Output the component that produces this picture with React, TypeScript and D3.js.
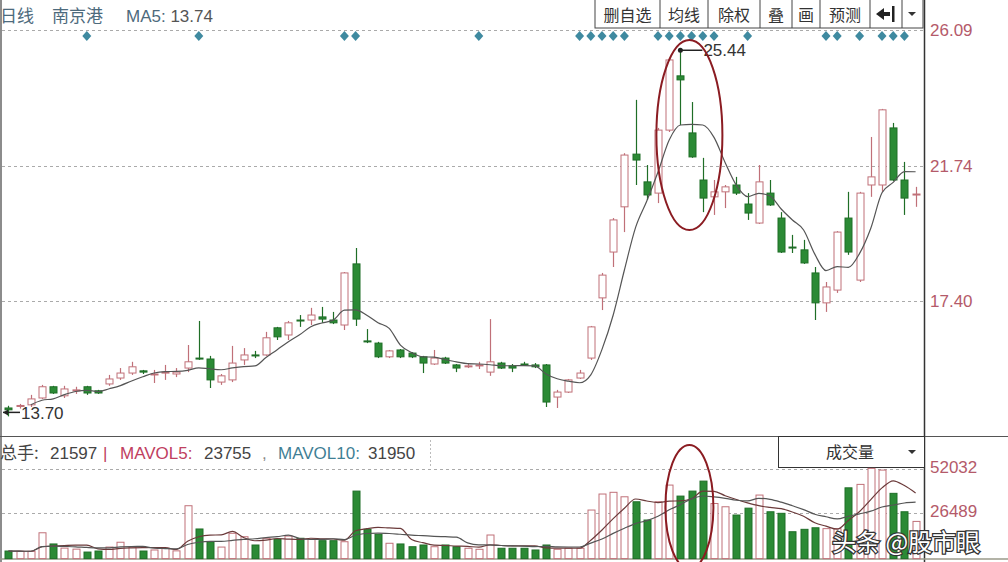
import React from "react";
import * as d3 from "d3";

// ---- data ----
const opens = [13.97,14.02,14.07,14.29,14.65,14.36,14.52,14.65,14.52,14.74,14.93,15.09,15.16,15.03,15.09,15.06,15.25,15.57,15.54,14.80,14.87,15.51,15.67,15.67,16.54,16.31,16.79,16.79,16.89,16.79,16.63,18.59,16.12,16.05,15.61,15.83,15.73,15.61,15.38,15.57,15.35,15.30,15.33,15.12,15.41,15.32,15.38,15.35,15.35,14.32,14.48,14.93,15.57,17.50,18.97,20.42,22.11,21.22,20.86,22.88,24.62,22.79,21.28,20.74,20.90,21.12,20.51,19.90,20.86,20.06,19.13,19.04,18.30,17.34,17.75,20.06,18.07,21.12,21.12,22.95,21.28,20.80];
const highs = [14.04,14.10,14.39,14.71,14.68,14.68,14.65,14.68,14.55,15.03,15.25,15.45,15.19,15.19,15.35,15.25,15.99,16.76,15.64,15.06,15.96,15.89,15.80,16.41,16.57,16.76,16.95,17.18,17.21,17.05,18.33,19.10,16.50,16.09,15.83,15.86,15.76,15.64,15.83,15.61,15.38,15.38,15.45,16.82,15.45,15.38,15.45,15.41,15.38,14.55,14.90,15.19,16.60,18.30,20.06,22.14,23.85,21.76,22.95,25.20,25.44,23.78,21.99,21.28,21.12,21.38,20.86,21.76,21.28,20.25,19.52,19.36,18.49,18.01,19.64,20.90,20.90,22.66,23.56,23.11,21.86,21.06];
const lows = [13.70,13.95,14.00,14.26,14.42,14.29,14.42,14.39,14.42,14.68,14.87,15.03,15.06,14.77,14.87,14.96,15.12,15.51,14.61,14.71,14.80,15.35,15.57,15.64,16.15,16.15,16.57,16.63,16.70,16.66,16.47,16.60,16.05,15.57,15.57,15.57,15.57,15.09,15.35,15.38,15.12,15.25,15.22,15.00,15.22,15.12,15.32,15.25,14.00,13.97,14.45,14.90,15.51,17.11,18.49,19.61,21.12,20.64,20.54,22.82,23.04,21.99,20.25,20.16,20.38,20.80,20.00,19.87,20.45,18.94,18.94,18.59,16.79,17.05,17.66,18.88,18.01,20.74,20.90,21.25,20.16,20.42];
const closes = [13.91,14.05,14.26,14.65,14.45,14.58,14.55,14.45,14.45,14.90,15.09,15.29,15.12,15.06,15.12,15.12,15.45,15.54,14.87,15.00,15.41,15.67,15.64,16.22,16.25,16.70,16.76,16.95,16.82,16.70,18.30,16.82,16.09,15.61,15.80,15.61,15.61,15.41,15.57,15.41,15.25,15.32,15.35,15.45,15.25,15.25,15.35,15.29,14.16,14.48,14.87,15.09,16.57,18.23,20.00,22.08,21.92,20.80,22.88,25.13,24.49,22.02,20.70,20.90,21.06,20.86,20.22,21.22,20.48,18.97,19.10,18.62,17.34,17.85,19.61,18.97,20.86,21.38,23.53,21.28,20.70,20.83];
const volumes = [4400,4200,4200,15000,8500,6100,5500,3800,4400,6700,9500,6700,4400,5000,6000,4500,30700,17200,9800,6700,14700,12700,7900,11800,11200,13100,11800,11200,10400,10400,9800,39200,17000,14100,8900,8500,6900,7900,6900,7900,6900,6000,5400,13700,6000,6000,6000,5000,7900,5400,6000,6000,28200,37500,38500,35900,33000,22400,33000,42700,36300,39200,45000,32000,30100,25300,29300,36900,27200,26300,15600,17000,17900,17400,17400,41100,43100,52400,51400,37900,27200,21597];
const priceTicks = [26.09, 21.74, 17.40];
const volumeTicks = [52032, 26489];
const signalIdx = [7,17,30,31,42,51,52,53,54,55,58,59,60,61,62,63,66,73,74,76,78,79,80];
const toolbar = ["删自选","均线","除权","叠","画","预测"];
const highLabel = "25.44";
const lowLabel = "13.70";

const W = 1008, H = 562;
const UP = "#c07078", DOWN = "#2b8a35", DOWN_S = "#1f6e27";
const LAT = "'Liberation Sans', Arial, sans-serif";

function movingAvg(arr: number[], n: number, start: number) {
  const out: [number, number][] = [];
  for (let i = start; i < arr.length; i++) {
    const s = arr.slice(Math.max(0, i - n + 1), i + 1);
    out.push([i, d3.mean(s) as number]);
  }
  return out;
}

export default function App() {
  const n = closes.length;
  const x = d3.scaleLinear().domain([0, n - 1]).range([8.4, 915.6]);
  const y = d3.scaleLinear().domain([17.40, 26.09]).range([301, 30]);
  const yv = d3.scaleLinear().domain([0, 52032]).range([558.6, 469]);
  const bw = 7;

  const ma5 = movingAvg(closes, 5, 2);
  const mv5 = movingAvg(volumes, 5, 0);
  const mv10 = movingAvg(volumes, 10, 0);
  const line = d3.line<[number, number]>().x(d => x(d[0])).y(d => y(d[1])).curve(d3.curveMonotoneX);
  const vline = d3.line<[number, number]>().x(d => x(d[0])).y(d => yv(d[1])).curve(d3.curveMonotoneX);

  const hiIdx = highs.indexOf(d3.max(highs) as number);
  const loIdx = lows.indexOf(d3.min(lows) as number);

  const btnEdges = [595, 660, 708, 760, 792, 820, 870, 902, 923];

  return (
    <svg width={W} height={H} style={{ position: "absolute", left: 0, top: 0, background: "#fff" }}
      fontFamily="'Noto Sans CJK SC', 'Liberation Sans', sans-serif">
      <rect x={0} y={0} width={W} height={H} fill="#fff" />
      {/* frame */}
      <line x1={1} y1={0} x2={1} y2={H} stroke="#666" strokeWidth={1.5} />
      <line x1={924.5} y1={0} x2={924.5} y2={H} stroke="#333" strokeWidth={1.5} />
      <line x1={0} y1={436.5} x2={1008} y2={436.5} stroke="#555" strokeWidth={1} />
      <line x1={0} y1={559} x2={1008} y2={559} stroke="#9a9a8a" strokeWidth={1.5} />

      {/* price grid */}
      {priceTicks.map(t => (
        <g key={t}>
          <line x1={2} x2={924} y1={Math.round(y(t)) + 0.5} y2={Math.round(y(t)) + 0.5} stroke="#aaa" strokeDasharray="3,3" />
          <text x={930} y={y(t) + 6} fontSize={17} fill="#b45a6a" fontFamily={LAT}>{t.toFixed(2)}</text>
        </g>
      ))}
      {/* volume grid */}
      {volumeTicks.map(t => (
        <g key={t}>
          <line x1={2} x2={924} y1={Math.round(yv(t)) + 0.5} y2={Math.round(yv(t)) + 0.5} stroke="#aaa" strokeDasharray="3,3" />
          <text x={930} y={yv(t) + 4} fontSize={17} fill="#b45a6a" fontFamily={LAT}>{t}</text>
        </g>
      ))}

      {/* header */}
      <g fontSize={17} fill="#4d6a7c">
        <text x={0} y={22}>日线</text>
        <text x={52} y={22}>南京港</text>
        <text x={126} y={22} fontFamily={LAT}>MA5: <tspan fill="#555">13.74</tspan></text>
      </g>

      {/* signal diamonds */}
      {signalIdx.map(i => (
        <path key={"d" + i} d={`M${x(i)},${31} l4.5,5 l-4.5,5 l-4.5,-5 Z`} fill="#3f8aa0" />
      ))}

      {/* toolbar */}
      <rect x={btnEdges[0]} y={-1} width={btnEdges[btnEdges.length - 1] - btnEdges[0]} height={29} fill="#fff" stroke="#444" />
      {btnEdges.slice(1, -1).map(e => (
        <line key={e} x1={e} x2={e} y1={0} y2={28} stroke="#444" />
      ))}
      {toolbar.map((t, k) => (
        <text key={t} x={(btnEdges[k] + btnEdges[k + 1]) / 2} y={21} fontSize={16} fill="#333" textAnchor="middle">{t}</text>
      ))}
      <path d="M876,14 l8,-6 v4 h6 v4 h-6 v4 Z" fill="#222" />
      <rect x={892} y={6} width={2.5} height={16} fill="#222" />
      <path d="M908,12 h8 l-4,4 Z" fill="#333" />

      {/* candles */}
      {closes.map((c, i) => {
        const o = opens[i];
        const up = c >= o;
        const cx = Math.round(x(i)) + 0.5;
        const top = y(Math.max(o, c));
        const bot = y(Math.min(o, c));
        const h = Math.max(1, bot - top);
        const col = up ? UP : DOWN_S;
        return (
          <g key={"c" + i}>
            <line x1={cx} x2={cx} y1={y(highs[i])} y2={y(lows[i])} stroke={col} strokeWidth={1.2} />
            <rect x={cx - bw / 2} y={top} width={bw} height={h}
              fill={up ? "#fff" : DOWN} stroke={col} strokeWidth={1} />
          </g>
        );
      })}

      {/* MA5 */}
      <path d={line(ma5) || ""} fill="none" stroke="#555" strokeWidth={1.2} />

      {/* high / low markers */}
      <circle cx={x(hiIdx)} cy={y(highs[hiIdx])} r={2.5} fill="#222" />
      <line x1={x(hiIdx)} x2={x(hiIdx) + 22} y1={y(highs[hiIdx])} y2={y(highs[hiIdx])} stroke="#222" strokeWidth={1.5} />
      <text x={x(hiIdx) + 23} y={y(highs[hiIdx]) + 6} fontSize={17} fill="#333" fontFamily={LAT}>{highLabel}</text>
      <line x1={3} x2={20} y1={y(lows[loIdx]) - 4} y2={y(lows[loIdx]) - 4} stroke="#222" strokeWidth={1.5} />
      <path d={`M3,${y(lows[loIdx]) - 4} l5,-3 v6 Z`} fill="#222" />
      <text x={21} y={y(lows[loIdx]) + 3} fontSize={17} fill="#333" fontFamily={LAT}>{lowLabel}</text>

      {/* volume header */}
      <g fontSize={17} fontFamily={LAT}>
        <text x={0} y={459} fill="#444" fontFamily="'Noto Sans CJK SC', sans-serif">总手:</text>
        <text x={50} y={459} fill="#444">21597</text>
        <text x={103} y={459} fill="#c04060">|</text>
        <text x={120} y={459} fill="#c04060">MAVOL5:</text>
        <text x={204} y={459} fill="#444">23755</text>
        <text x={262} y={459} fill="#888">,</text>
        <text x={278} y={459} fill="#3f7f95">MAVOL10:</text>
        <text x={368} y={459} fill="#444">31950</text>
      </g>
      <line x1={430.5} x2={430.5} y1={440} y2={468} stroke="#bbb" strokeDasharray="2,2" />
      <rect x={778.5} y={436.5} width={146} height={31} fill="#fff" stroke="#333" />
      <text x={850} y={458} fontSize={16} fill="#333" textAnchor="middle">成交量</text>
      <path d="M908,450 h8 l-4,4 Z" fill="#333" />

      {/* volume bars */}
      {volumes.map((v, i) => {
        const up = closes[i] >= opens[i];
        const cx = Math.round(x(i)) + 0.5;
        return (
          <rect key={"v" + i} x={cx - bw / 2} y={yv(v)} width={bw} height={yv(0) - yv(v)}
            fill={up ? "#fff" : DOWN} stroke={up ? UP : DOWN_S} strokeWidth={1} />
        );
      })}
      <path d={vline(mv5) || ""} fill="none" stroke="#6b3a3a" strokeWidth={1.2} />
      <path d={vline(mv10) || ""} fill="none" stroke="#555" strokeWidth={1.2} />

      {/* annotations */}
      <ellipse cx={x(hiIdx) + 9} cy={y(22.72)} rx={33} ry={95} fill="none" stroke="#8b1c22" strokeWidth={2} />
      <ellipse cx={x(hiIdx) + 9} cy={yv(30000)} rx={24} ry={62} fill="none" stroke="#8b1c22" strokeWidth={2} />

      {/* watermark */}
      <text x={832} y={551} fontSize={24} fill="#fff" stroke="#333" strokeWidth={2.5}
        style={{ paintOrder: "stroke" }}>头条 @股市眼</text>
    </svg>
  );
}
